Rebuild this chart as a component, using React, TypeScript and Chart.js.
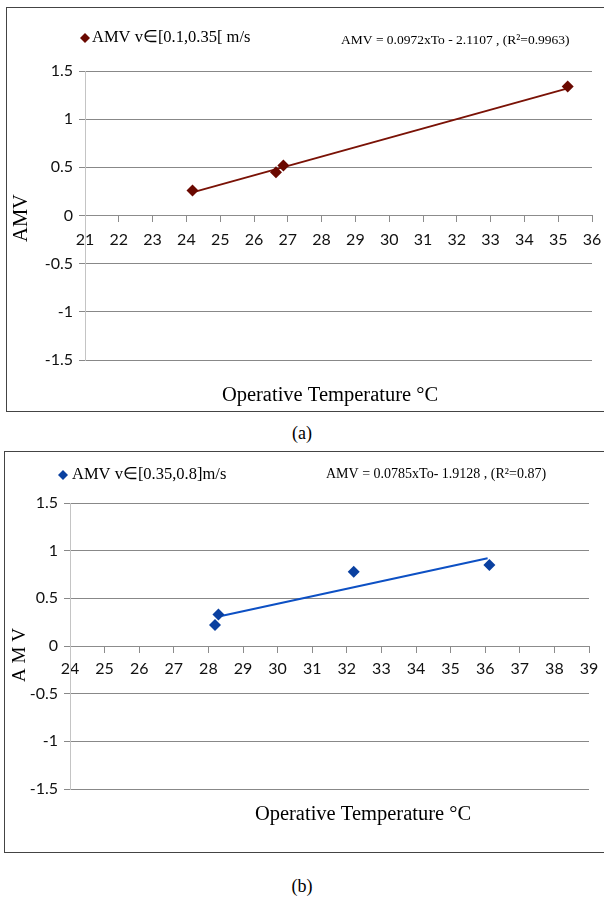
import React, { useEffect, useRef } from "react";
import { Chart, registerables } from "chart.js";

Chart.register(...registerables);

// ---- shared ----
const yTickValues = [-1.5, -1, -0.5, 0, 0.5, 1, 1.5];
const xTitle = "Operative Temperature °C";

// ---- panel (a) ----
const xRangeA = [21, 36];
const tempA = [24.18, 26.65, 26.87, 35.28];
const amvA = [0.26, 0.45, 0.52, 1.34];
const trendTempA = [24.18, 35.28];
const trendAmvA = [0.24, 1.32];
const legendA = "AMV v∈[0.1,0.35[ m/s";
const equationA = "AMV = 0.0972xTo - 2.1107 , (R²=0.9963)";
const yTitleA = "AMV";
const captionA = "(a)";

// ---- panel (b) ----
const xRangeB = [24, 39];
const tempB = [28.19, 28.29, 32.2, 36.12];
const amvB = [0.22, 0.33, 0.78, 0.85];
const trendTempB = [28.3, 36.07];
const trendAmvB = [0.31, 0.92];
const legendB = "AMV v∈[0.35,0.8]m/s";
const equationB = "AMV = 0.0785xTo- 1.9128 , (R²=0.87)";
const yTitleB = "A M V";
const captionB = "(b)";

const SERIF = '"Liberation Serif", "Times New Roman", serif';
const SANS = 'Lato, "Liberation Sans", sans-serif';

const panelText = {
  id: "panelText",
  afterDraw(chart: any, _args: any, o: any) {
    const ctx = chart.ctx;
    ctx.save();
    // legend marker
    const r = o.markerR;
    ctx.fillStyle = o.markerColor;
    ctx.beginPath();
    ctx.moveTo(o.legendX, o.legendY - r);
    ctx.lineTo(o.legendX + r, o.legendY);
    ctx.lineTo(o.legendX, o.legendY + r);
    ctx.lineTo(o.legendX - r, o.legendY);
    ctx.closePath();
    ctx.fill();
    ctx.fillStyle = "#000";
    ctx.textBaseline = "middle";
    ctx.textAlign = "left";
    ctx.font = `${o.legendSize}px ${SERIF}`;
    ctx.fillText(o.legend, o.legendTextX, o.legendY);
    ctx.font = `${o.eqSize}px ${SERIF}`;
    ctx.fillText(o.equation, o.eqX, o.eqY);
    ctx.textAlign = "center";
    ctx.font = `${o.titleSize}px ${SERIF}`;
    ctx.fillText(o.xTitle, o.xTitleX, o.xTitleY);
    ctx.translate(o.yTitleX, o.yTitleY);
    ctx.rotate(-Math.PI / 2);
    ctx.font = `${o.yTitleSize}px ${SERIF}`;
    ctx.fillText(o.yTitle, 0, 0);
    ctx.restore();
  },
};

type PanelProps = {
  width: number;
  height: number;
  xRange: number[];
  temp: number[];
  amv: number[];
  trendTemp: number[];
  trendAmv: number[];
  pointColor: string;
  lineColor: string;
  padding: { left: number; right: number; top: number; bottom: number };
  yWidth: number;
  xPad: number;
  text: any;
};

function Panel(p: PanelProps) {
  const ref = useRef<HTMLCanvasElement | null>(null);
  useEffect(() => {
    if (!ref.current) return;
    const chart = new Chart(ref.current, {
      type: "scatter",
      data: {
        datasets: [
          {
            label: p.text.legend,
            data: p.temp.map((t, i) => ({ x: t, y: p.amv[i] })),
            pointStyle: "rectRot",
            pointRadius: 6,
            pointHoverRadius: 6,
            borderWidth: 0,
            backgroundColor: p.pointColor,
            borderColor: p.pointColor,
            showLine: false,
          },
          {
            label: "trend",
            data: p.trendTemp.map((t, i) => ({ x: t, y: p.trendAmv[i] })),
            showLine: true,
            pointRadius: 0,
            borderColor: p.lineColor,
            borderWidth: 2,
            backgroundColor: p.lineColor,
          },
        ],
      },
      options: {
        animation: false,
        responsive: false,
        devicePixelRatio: 1,
        events: [],
        layout: { padding: p.padding },
        plugins: {
          legend: { display: false },
          tooltip: { enabled: false },
          panelText: p.text,
        } as any,
        scales: {
          x: {
            type: "linear",
            position: { y: 0 } as any,
            min: p.xRange[0],
            max: p.xRange[1],
            afterFit: (s: any) => {
              s.paddingLeft = 0;
              s.paddingRight = 0;
            },
            ticks: {
              stepSize: 1,
              autoSkip: false,
              maxRotation: 0,
              padding: p.xPad,
              color: "#111",
              font: { family: SANS, size: 16 },
            },
            grid: {
              drawOnChartArea: false,
              drawTicks: true,
              tickLength: 6,
              color: "#8c8c8c",
            },
            border: { display: true, color: "#8c8c8c", width: 1 },
          },
          y: {
            type: "linear",
            position: "left",
            min: yTickValues[0],
            max: yTickValues[yTickValues.length - 1],
            afterFit: (s: any) => {
              s.width = p.yWidth;
              s.paddingTop = 0;
              s.paddingBottom = 0;
            },
            afterBuildTicks: (s: any) => {
              s.ticks = yTickValues.map((v) => ({ value: v }));
            },
            ticks: {
              padding: 6,
              color: "#111",
              font: { family: SANS, size: 16 },
              callback: (v: any) => String(v),
            },
            grid: {
              drawTicks: true,
              tickLength: 6,
              color: "#888888",
            },
            border: { display: true, color: "#c4c4c4", width: 1 },
          },
        },
      },
      plugins: [panelText],
    });
    return () => chart.destroy();
  }, []);
  return (
    <canvas
      ref={ref}
      width={p.width}
      height={p.height}
      style={{ display: "block", width: p.width, height: p.height }}
    />
  );
}

export default function App() {
  return (
    <div
      style={{
        position: "fixed",
        left: 0,
        top: 0,
        width: 604,
        height: 904,
        overflow: "hidden",
        background: "#fff",
        fontFamily: SERIF,
      }}
    >
      <div
        style={{
          position: "absolute",
          left: 6,
          top: 7,
          width: 620,
          height: 403,
          border: "1px solid #444",
        }}
      >
        <Panel
          width={598}
          height={403}
          xRange={xRangeA}
          temp={tempA}
          amv={amvA}
          trendTemp={trendTempA}
          trendAmv={trendAmvA}
          pointColor="#6a0800"
          lineColor="#7a1206"
          padding={{ left: 10, right: 13, top: 63, bottom: 51 }}
          yWidth={68}
          xPad={9}
          text={{
            legend: legendA,
            legendX: 78,
            legendY: 30,
            legendTextX: 85,
            legendSize: 16.5,
            markerR: 5,
            markerColor: "#6a0800",
            equation: equationA,
            eqX: 334,
            eqY: 32,
            eqSize: 13.5,
            xTitle: xTitle,
            xTitleX: 323,
            xTitleY: 388,
            titleSize: 20.5,
            yTitle: yTitleA,
            yTitleX: 15,
            yTitleY: 210,
            yTitleSize: 20.5,
          }}
        />
      </div>
      <div
        style={{
          position: "absolute",
          left: 0,
          top: 424,
          width: 604,
          textAlign: "center",
          fontSize: 18,
          lineHeight: "18px",
        }}
      >
        {captionA}
      </div>
      <div
        style={{
          position: "absolute",
          left: 4,
          top: 451,
          width: 620,
          height: 400,
          border: "1px solid #444",
        }}
      >
        <Panel
          width={600}
          height={400}
          xRange={xRangeB}
          temp={tempB}
          amv={amvB}
          trendTemp={trendTempB}
          trendAmv={trendAmvB}
          pointColor="#0a40a0"
          lineColor="#0d50c4"
          padding={{ left: 10, right: 16, top: 51, bottom: 63 }}
          yWidth={55}
          xPad={7}
          text={{
            legend: legendB,
            legendX: 58,
            legendY: 23,
            legendTextX: 67,
            legendSize: 16.5,
            markerR: 5,
            markerColor: "#0a40a0",
            equation: equationB,
            eqX: 321,
            eqY: 22,
            eqSize: 14,
            xTitle: xTitle,
            xTitleX: 358,
            xTitleY: 363,
            titleSize: 20.5,
            yTitle: yTitleB,
            yTitleX: 15,
            yTitleY: 203,
            yTitleSize: 19,
          }}
        />
      </div>
      <div
        style={{
          position: "absolute",
          left: 0,
          top: 877,
          width: 604,
          textAlign: "center",
          fontSize: 18,
          lineHeight: "18px",
        }}
      >
        {captionB}
      </div>
    </div>
  );
}
